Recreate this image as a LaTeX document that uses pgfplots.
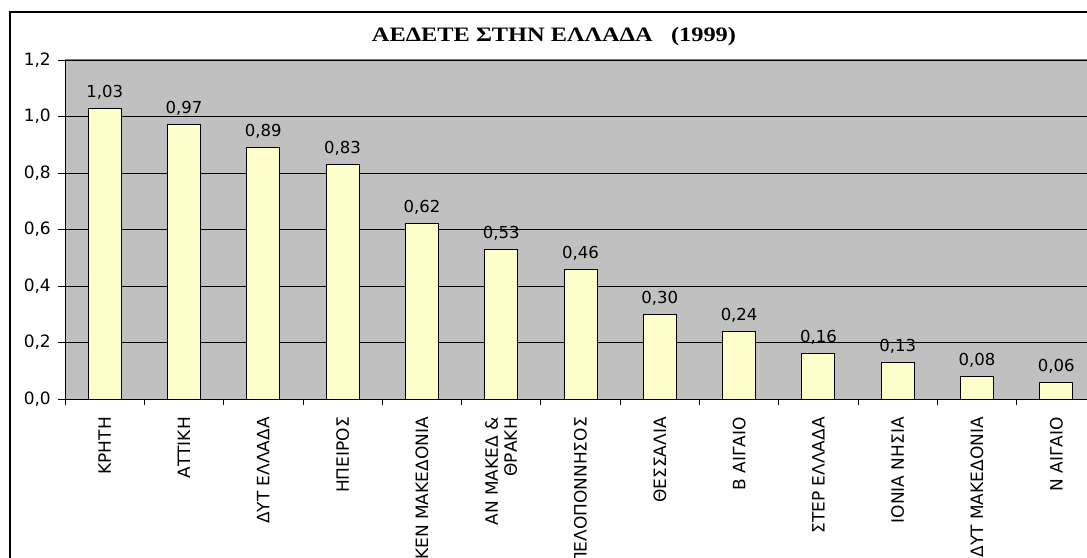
\documentclass[border=0pt]{standalone}
\usepackage{fontspec}
\setmainfont{DejaVu Sans}
\newfontfamily\titlefont{Liberation Serif}[FakeStretch=1.19]
\usepackage{pgfplots}
\pgfplotsset{compat=1.18}
\definecolor{plotgray}{HTML}{C0C0C0}
\definecolor{barfill}{HTML}{FFFFCC}
\begin{document}
\begin{tikzpicture}[x=1pt,y=1pt]
\useasboundingbox (-65,-158) rectangle (1022,399);
\clip (-65,-158) rectangle (1022,399);
\draw[line width=1.3pt] (-55,-300) rectangle (1200,387);
\node[font=\titlefont\bfseries\fontsize{20.5}{24}\selectfont] at (489,362.5) {ΑΕΔΕΤΕ ΣΤΗΝ ΕΛΛΑΔΑ\ \ \ (1999)};
\begin{axis}[
  at={(0,0)}, anchor=south west,
  scale only axis, width=1031pt, height=339pt,
  xmin=-0.5, xmax=12.5, ymin=0, ymax=1.2,
  axis background/.style={fill=plotgray},
  axis x line*=bottom, axis y line*=left,
  axis line style={black, line width=0.9pt},
  /pgf/number format/assume math mode=true,
  ytick={0,0.2,0.4,0.6,0.8,1.0,1.2},
  yticklabel style={font=\fontsize{17}{20}\selectfont, inner sep=0pt, /pgf/number format/.cd, fixed, fixed zerofill, precision=1, use comma},
  ymajorgrids, major grid style={black, line width=0.8pt},
  xtick={0,1,2,3,4,5,6,7,8,9,10,11,12},
  minor xtick={-0.5,0.5,1.5,2.5,3.5,4.5,5.5,6.5,7.5,8.5,9.5,10.5,11.5,12.5},
  major x tick style={draw=none},
  minor x tick style={black, line width=0.8pt},
  ytick style={black, line width=0.8pt},
  tick align=outside, major tick length=7pt, minor tick length=6pt,
  xticklabels={ΚΡΗΤΗ, ΑΤΤΙΚΗ, ΔΥΤ ΕΛΛΑΔΑ, ΗΠΕΙΡΟΣ, ΚΕΝ ΜΑΚΕΔΟΝΙΑ, {ΑΝ ΜΑΚΕΔ \&\\ΘΡΑΚΗ}, ΠΕΛΟΠΟΝΝΗΣΟΣ, ΘΕΣΣΑΛΙΑ, Β ΑΙΓΑΙΟ, ΣΤΕΡ ΕΛΛΑΔΑ, ΙΟΝΙΑ ΝΗΣΙΑ, ΔΥΤ ΜΑΚΕΔΟΝΙΑ, Ν ΑΙΓΑΙΟ},
  xticklabel style={rotate=90, anchor=east, align=right, inner sep=0pt, font=\fontsize{17}{19}\selectfont},
  xticklabel shift=11pt,
  yticklabel shift=7pt,
  ybar, bar width=33pt,
  clip=false,
]
\addplot[fill=barfill, draw=black, line width=1pt,
  nodes near coords={\pgfmathprintnumber[fixed, fixed zerofill, precision=2, use comma, assume math mode=true]{\pgfplotspointmeta}},
  every node near coord/.append style={anchor=base, yshift=11pt, inner sep=0pt, font=\fontsize{16.5}{19}\selectfont}]
coordinates {(0,1.03) (1,0.97) (2,0.89) (3,0.83) (4,0.62) (5,0.53) (6,0.46) (7,0.30) (8,0.24) (9,0.16) (10,0.13) (11,0.08) (12,0.06)};
\draw[gray, line width=1pt] (rel axis cs:0,1) -- (rel axis cs:1,1);
\end{axis}
\end{tikzpicture}
\end{document}
